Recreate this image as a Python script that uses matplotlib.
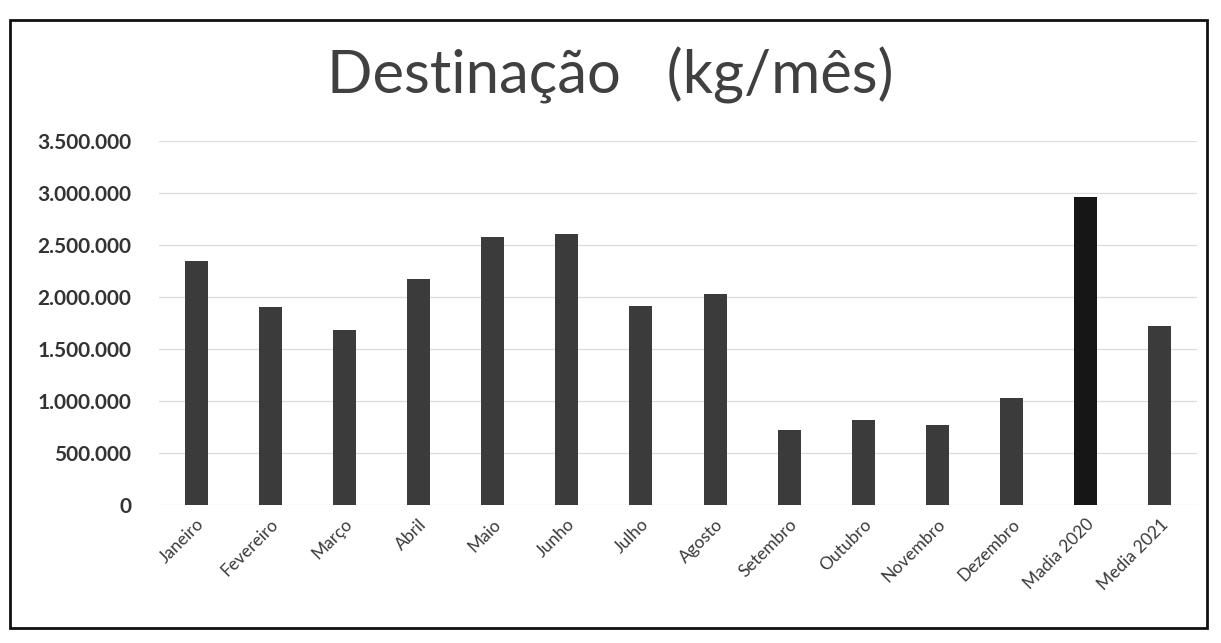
import matplotlib.pyplot as plt
from matplotlib.patches import Rectangle
from matplotlib.ticker import FuncFormatter

categories = ["Janeiro", "Fevereiro", "Março", "Abril", "Maio", "Junho", "Julho",
              "Agosto", "Setembro", "Outubro", "Novembro", "Dezembro",
              "Madia 2020", "Media 2021"]
valores = [2350000, 1900000, 1680000, 2170000, 2580000, 2610000, 1910000,
           2030000, 720000, 820000, 770000, 1030000, 2960000, 1720000]
cores = ["#3b3b3b"] * 12 + ["#161616", "#3b3b3b"]

plt.rcParams["font.family"] = ["Lato", "DejaVu Sans"]

fig = plt.figure(figsize=(12.21, 6.43), dpi=100)
ax = fig.add_axes([159 / 1221, 1 - 505 / 643, (1197 - 159) / 1221, (505 - 141) / 643])

x = range(len(categories))
ax.bar(x, valores, width=0.31, color=cores, zorder=3)

ax.set_xlim(-0.5, len(categories) - 0.5)
ax.set_ylim(0, 3500000)
ax.set_yticks(range(0, 3500001, 500000))
ax.yaxis.set_major_formatter(FuncFormatter(lambda v, p: f"{int(v):,}".replace(",", ".")))
ax.grid(axis="y", color="#dcdcdc", linewidth=0.9, zorder=0)

ax.set_xticks(list(x))
ax.set_xticklabels(categories, rotation=45, ha="right", rotation_mode="anchor",
                   fontsize=12.5, color="#3a3a3a")
for lbl in ax.get_yticklabels():
    lbl.set_fontsize(15)
    lbl.set_fontweight("bold")
    lbl.set_color("#333333")

ax.tick_params(axis="both", length=0)
ax.tick_params(axis="y", pad=20)
ax.tick_params(axis="x", pad=8)
for s in ax.spines.values():
    s.set_visible(False)

fig.text(0.5, 1 - 75 / 643, "Destinação   (kg/mês)", ha="center", va="center",
         fontsize=43, color="#404040")

# moldura do gráfico
fig.patches.append(Rectangle((10 / 1221, 1 - 628 / 643), 1197 / 1221, 608 / 643,
                             transform=fig.transFigure, fill=False,
                             edgecolor="#111111", linewidth=2))

fig.savefig("out.png", dpi=100)
